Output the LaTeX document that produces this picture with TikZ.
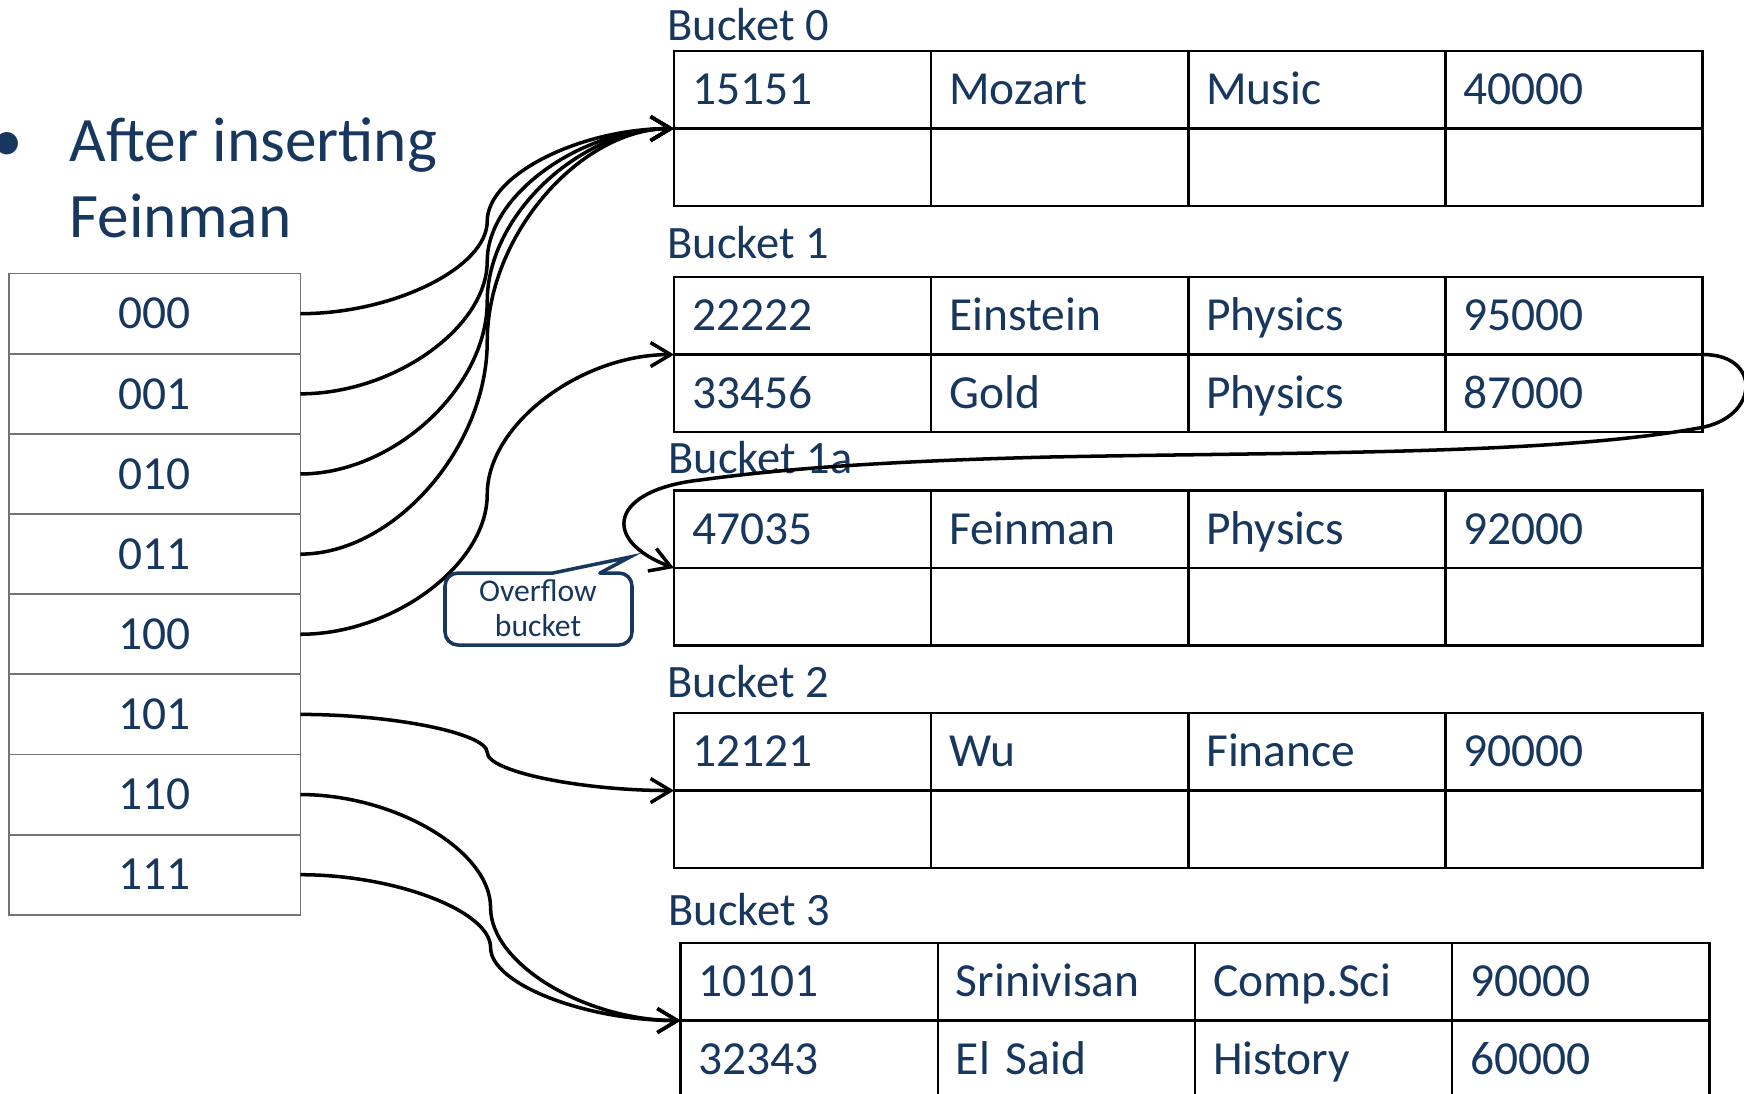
\documentclass[tikz,border=0pt]{standalone}
\usepackage{fontspec}
\setmainfont{Carlito}
\usepackage{tikz}
\usetikzlibrary{arrows.meta, positioning, calc}
\definecolor{cNavy}{RGB}{23,55,94}
\tikzset{
	cell/.style  ={rectangle, draw=black, line width=0.7pt, outer sep=0pt, minimum height=0.775cm, text width=2.21cm, inner xsep=0.18cm, text height=0.40cm, text depth=0.10cm, align=left, text=cNavy, font=\fontsize{13.5}{16}\selectfont},
	hrow/.style  ={rectangle, draw=black!55, line width=0.5pt, outer sep=0pt, minimum width=2.914cm, minimum height=0.801cm, text=cNavy, font=\fontsize{13.5}{16}\selectfont},
	blabel/.style={anchor=base west, inner sep=0pt, text=cNavy, font=\fontsize{13.2}{16}\selectfont},
	ptr/.style   ={-{Straight Barb[length=2mm, width=2.4mm]}, line width=1pt},
	% curved connector: two arcs meeting upright half way
	curv/.style  ={to path={let \p1=(\tikztostart), \p2=(\tikztotarget) in
		.. controls ({(3*\x1+\x2)/4},\y1) and ({(\x1+\x2)/2},{(3*\y1+\y2)/4}) .. ({(\x1+\x2)/2},{(\y1+\y2)/2})
		.. controls ({(\x1+\x2)/2},{(\y1+3*\y2)/4}) and ({(\x1+3*\x2)/4},\y2) .. (\tikztotarget) \tikztonodes}},
	% callout styles
	note/.style  ={align=center, inner sep=0pt, text=cNavy, font=\fontsize{9}{10}\selectfont},
	notebox/.style={draw=cNavy, line width=1pt, line cap=round},
}
\begin{document}
\begin{tikzpicture}[x=0.01cm, y=-0.01cm]
	\useasboundingbox (0,0) rectangle (1744,1093);
	% heading
	\node[anchor=base west, inner sep=0pt, text=cNavy, font=\fontsize{18}{21.5}\selectfont] (dot) at (-9,161) {•};
	\node[anchor=base west, inner sep=0pt, align=left, text=cNavy, font=\fontsize{18}{21.5}\selectfont] (title) at (69,237) {After inserting\\Feinman};
	% hash table
	\node[hrow, anchor=north west] (h000) at (8.9,273.6) {000};
	\node[hrow, below=0pt of h000] (h001) {001}; \node[hrow, below=0pt of h001] (h010) {010};
	\node[hrow, below=0pt of h010] (h011) {011}; \node[hrow, below=0pt of h011] (h100) {100};
	\node[hrow, below=0pt of h100] (h101) {101}; \node[hrow, below=0pt of h101] (h110) {110};
	\node[hrow, below=0pt of h110] (h111) {111};
	% bucket 0
	\node[blabel] (l0) at (667,40) {Bucket 0};
	\node[cell, anchor=north west] (b0a) at (674,51) {15151};
	\node[cell, right=0pt of b0a] (b0b) {Mozart}; \node[cell, right=0pt of b0b] (b0c) {Music}; \node[cell, right=0pt of b0c] (b0d) {40000};
	\node[cell, below=0pt of b0a] (b0e) {}; \node[cell, right=0pt of b0e] (b0f) {}; \node[cell, right=0pt of b0f] (b0g) {}; \node[cell, right=0pt of b0g] (b0h) {};
	% bucket 1
	\node[blabel] (l1) at (667,258) {Bucket 1};
	\node[cell, anchor=north west] (b1a) at (674,277) {22222};
	\node[cell, right=0pt of b1a] (b1b) {Einstein}; \node[cell, right=0pt of b1b] (b1c) {Physics}; \node[cell, right=0pt of b1c] (b1d) {95000};
	\node[cell, below=0pt of b1a] (b1e) {33456}; \node[cell, right=0pt of b1e] (b1f) {Gold}; \node[cell, right=0pt of b1f] (b1g) {Physics}; \node[cell, right=0pt of b1g] (b1h) {87000};
	% bucket 1a (overflow)
	\node[blabel] (lo) at (668,473) {Bucket 1a};
	\node[cell, anchor=north west] (boa) at (674,490.5) {47035};
	\node[cell, right=0pt of boa] (bob) {Feinman}; \node[cell, right=0pt of bob] (boc) {Physics}; \node[cell, right=0pt of boc] (bod) {92000};
	\node[cell, below=0pt of boa] (boe) {}; \node[cell, right=0pt of boe] (bof) {}; \node[cell, right=0pt of bof] (bog) {}; \node[cell, right=0pt of bog] (boh) {};
	% bucket 2
	\node[blabel] (l2) at (667,697) {Bucket 2};
	\node[cell, anchor=north west] (b2a) at (674,713) {12121};
	\node[cell, right=0pt of b2a] (b2b) {Wu}; \node[cell, right=0pt of b2b] (b2c) {Finance}; \node[cell, right=0pt of b2c] (b2d) {90000};
	\node[cell, below=0pt of b2a] (b2e) {}; \node[cell, right=0pt of b2e] (b2f) {}; \node[cell, right=0pt of b2f] (b2g) {}; \node[cell, right=0pt of b2g] (b2h) {};
	% bucket 3
	\node[blabel] (l3) at (668,925) {Bucket 3};
	\node[cell, anchor=north west] (b3a) at (680.7,943) {10101};
	\node[cell, right=0pt of b3a] (b3b) {Srinivisan}; \node[cell, right=0pt of b3b] (b3c) {Comp.Sci}; \node[cell, right=0pt of b3c] (b3d) {90000};
	\node[cell, below=0pt of b3a] (b3e) {32343}; \node[cell, right=0pt of b3e] (b3f) {El Said}; \node[cell, right=0pt of b3f] (b3g) {History}; \node[cell, right=0pt of b3g] (b3h) {60000};
	% pointers
	\draw[ptr] (h000.east) to[curv] (b0a.south west);
	\draw[ptr] (h001.east) to[curv] (b0a.south west);
	\draw[ptr] (h010.east) to[curv] (b0a.south west);
	\draw[ptr] (h011.east) to[curv] (b0a.south west);
	\draw[ptr] (h100.east) to[curv] (b1a.south west);
	\draw[ptr] (h101.east) to[curv] (b2a.south west);
	\draw[ptr] (h110.east) to[curv] (b3a.south west);
	\draw[ptr] (h111.east) to[curv] (b3a.south west);
	\draw[ptr] (b1d.south east) .. controls (1762,354) and (1760,418) .. (1699,428)
		.. controls (1550,455) and (1300,452) .. (1050,457)
		.. controls (850,462) and (760,472) .. (700,480)
		.. controls (610,490) and (600,540) .. (boa.south west);
	% overflow note
	\node[note] (ovf) at (538,608) {Overflow\\bucket};
	\draw[notebox, line join=miter] (600,573) -- (630,557) -- (553,573);
	\draw[notebox, rounded corners=0.13cm] (553,573) -- (445,573) -- (445,645) -- (632,645) -- (632,573) -- (600,573);
\end{tikzpicture}
\end{document}
